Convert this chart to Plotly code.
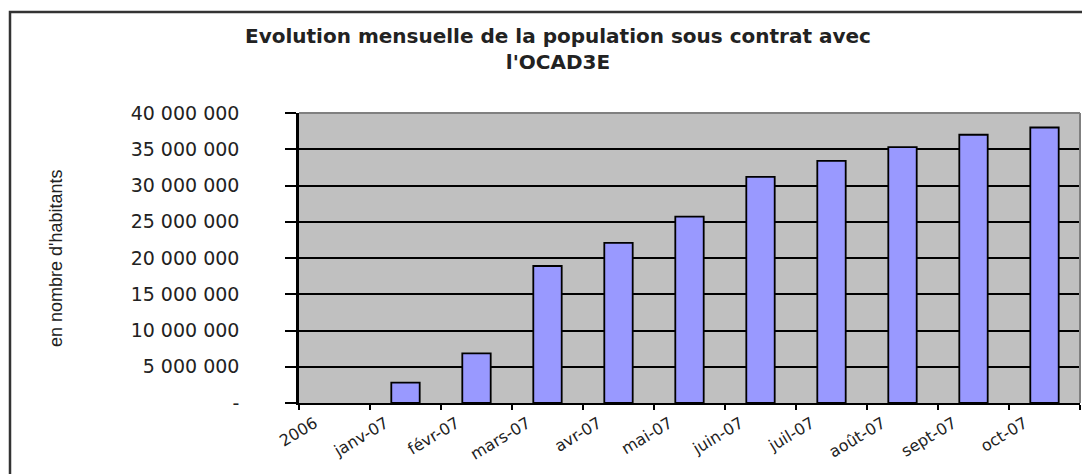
import plotly.graph_objects as go

# ---- data ----
categories = ["2006", "janv-07", "févr-07", "mars-07", "avr-07", "mai-07",
              "juin-07", "juil-07", "août-07", "sept-07", "oct-07"]
population = [0, 2_800_000, 6_850_000, 18_900_000, 22_100_000, 25_700_000,
              31_200_000, 33_400_000, 35_300_000, 37_000_000, 38_000_000]
y_tick_values = [0, 5_000_000, 10_000_000, 15_000_000, 20_000_000,
                 25_000_000, 30_000_000, 35_000_000, 40_000_000]
y_tick_labels = ["-", "5 000 000", "10 000 000", "15 000 000", "20 000 000",
                 "25 000 000", "30 000 000", "35 000 000", "40 000 000"]
title_text = "Evolution mensuelle de la population sous contrat avec<br>l'OCAD3E"
y_title_text = "en nombre d'habitants"

# page is shown with the browser's default 8px body margin
OFF = 8
W, H = 1090 - OFF, 474 - OFF
# plot area in page pixels: x 299..1080, y 113..403
L, R, T, B = 299 - OFF, 1090 - 1080, 113 - OFF, 474 - 403
PW, PH = W - L - R, H - T - B


def px(x):  # page pixel -> paper x
    return (x - OFF - L) / PW


def py(y):  # page pixel -> paper y
    return (H - B - (y - OFF)) / PH


line_widths = [0 if v == 0 else 1.8 for v in population]

fig = go.Figure()
fig.add_trace(go.Bar(
    x=categories, y=population,
    marker=dict(color="#9999FF", line=dict(color="black", width=line_widths)),
    width=0.4, showlegend=False,
))

fig.update_layout(
    width=W, height=H,
    margin=dict(l=L, r=R, t=T, b=B, autoexpand=False),
    paper_bgcolor="white",
    plot_bgcolor="#C0C0C0",
    font=dict(family="DejaVu Sans, Arial, sans-serif", color="black"),
    xaxis=dict(
        type="category",
        tickson="boundaries",
        ticks="outside", ticklen=5, tickwidth=2, tickcolor="black",
        showgrid=False, zeroline=False,
        showline=True, linecolor="black", linewidth=2,
        tickangle=-31,
        ticklabelshift=-20,
        ticklabelstandoff=3,
        tickfont=dict(size=16, family="DejaVu Sans, Arial, sans-serif", color="#222"),
        range=[-0.5, len(categories) - 0.5],
    ),
    yaxis=dict(
        range=[0, 40_000_000],
        tickvals=y_tick_values, ticktext=y_tick_labels,
        ticks="outside", ticklen=11, tickwidth=2, tickcolor="black",
        showgrid=True, gridcolor="black", gridwidth=1.5,
        zeroline=False,
        showline=True, linecolor="black", linewidth=2.5,
        tickfont=dict(size=19, family="DejaVu Sans, Arial, sans-serif", color="#222"),
        ticklabelstandoff=42,
    ),
    annotations=[
        dict(text=title_text, xref="paper", yref="paper",
             x=px(558), y=py(49), xanchor="center", yanchor="middle",
             showarrow=False,
             font=dict(size=20, family="DejaVu Sans, Arial, sans-serif",
                       color="#222", weight="bold")),
        dict(text=y_title_text, xref="paper", yref="paper",
             x=px(56), y=py(258), xanchor="center", yanchor="middle",
             textangle=-90, showarrow=False,
             font=dict(size=18, family="Liberation Sans Narrow, Liberation Sans, Arial, sans-serif",
                       color="#222")),
    ],
    shapes=[
        # outer chart border (cropped at right and bottom)
        dict(type="rect", xref="paper", yref="paper",
             x0=px(10), x1=px(1120), y0=py(500), y1=py(12),
             line=dict(color="#333", width=2.5), layer="above"),
        # plot area border: top and right in gray
        dict(type="line", xref="paper", yref="paper",
             x0=0, x1=1, y0=1, y1=1, line=dict(color="#808080", width=2), layer="above"),
        dict(type="line", xref="paper", yref="paper",
             x0=1, x1=1, y0=0, y1=1, line=dict(color="#808080", width=2), layer="above"),
    ],
)

fig.write_html("out.html")
